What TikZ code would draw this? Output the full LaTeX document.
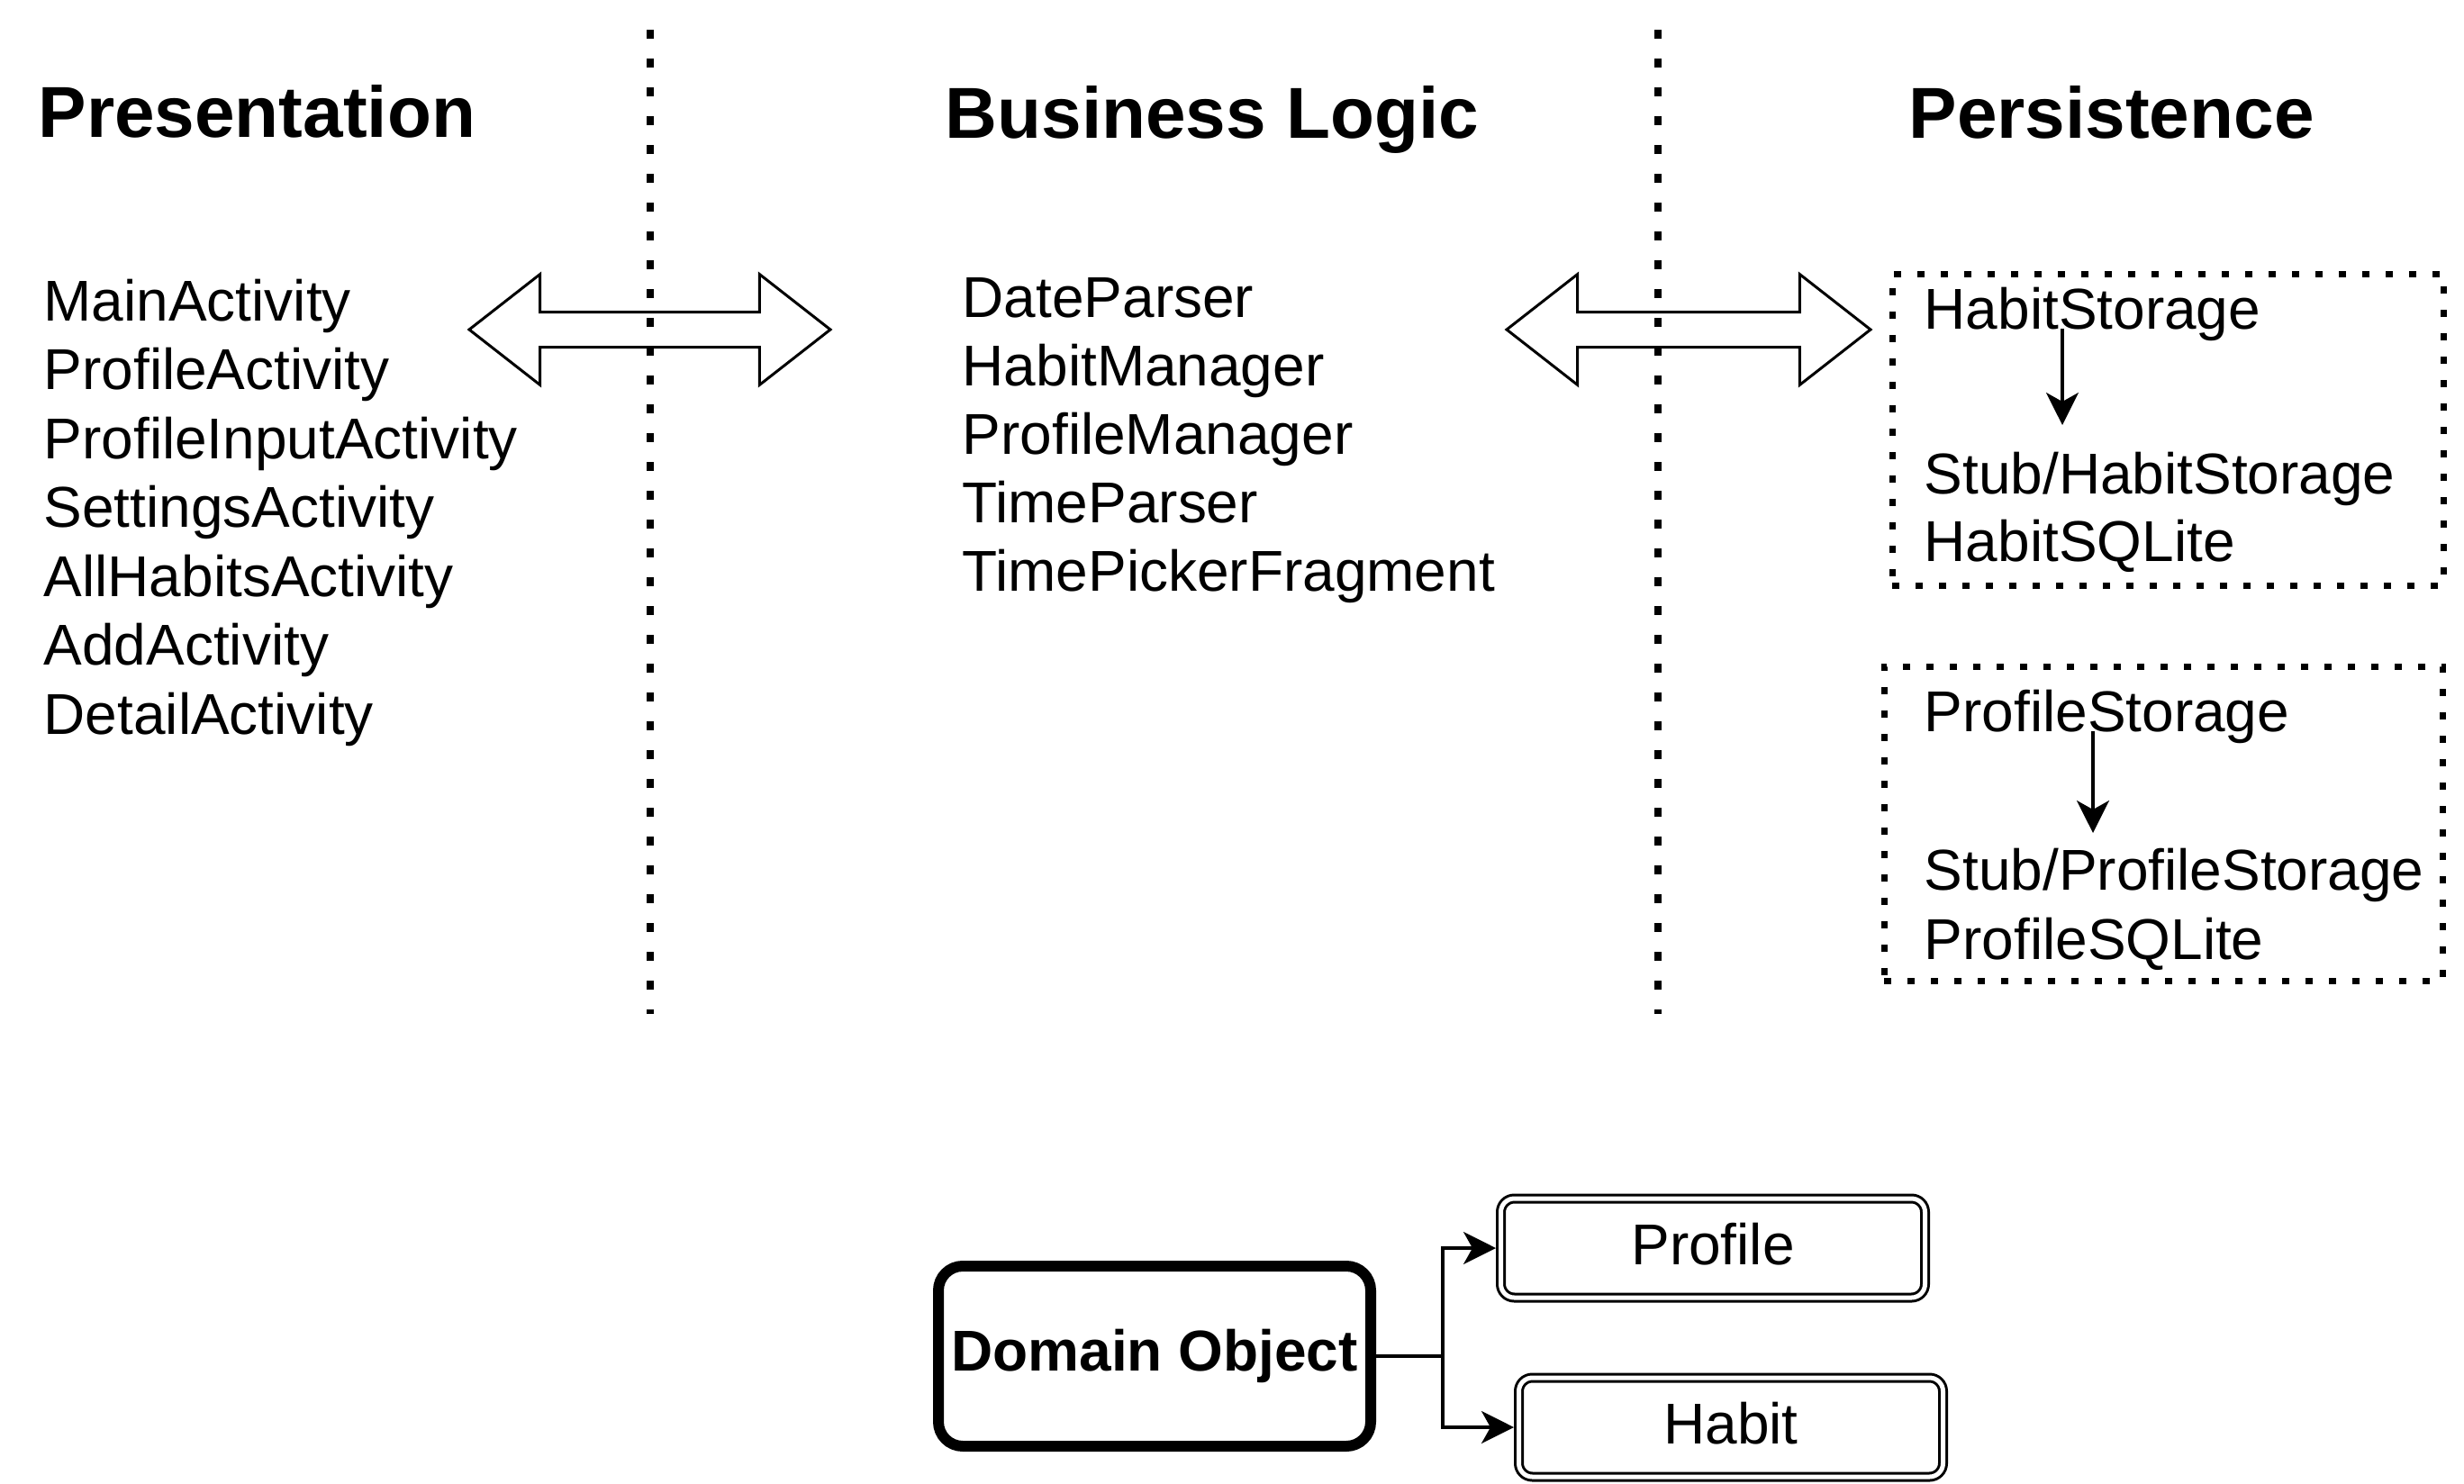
\documentclass[tikz,border=0pt]{standalone}
\usepackage{fontspec}
\setmainfont{Liberation Sans}
\usepackage{xcolor}
\usepackage{tikz}
\usetikzlibrary{shapes.arrows, arrows.meta}

\begin{document}
\begin{tikzpicture} [
    layerTitle/.style={anchor=base west, inner sep=0pt, font=\fontsize{22.8pt}{27pt}\selectfont\bfseries},
    className/.style={anchor=base west, inner sep=0pt, font=\fontsize{18.2pt}{22pt}\selectfont},
    layerBorder/.style={line width=0.08cm, dash pattern=on 0.1cm off 0.22cm},
    storageBox/.style={draw, line width=0.07cm, dash pattern=on 0.08cm off 0.18cm, inner sep=0pt},
    layerArrow/.style={double arrow, draw, line width=0.03cm, inner xsep=0pt, inner ysep=0.18cm, double arrow head extend=0.42cm, double arrow tip angle=76},
    domainObject/.style={draw, rounded corners=0.27cm, line width=0.12cm, minimum width=4.8cm, minimum height=2cm, font=\fontsize{18.2pt}{22pt}\selectfont\bfseries},
    domainClass/.style={draw, double, line width=0.03cm, double distance=0.05cm, rounded corners=0.15cm, outer sep=0.055cm, minimum width=4.71cm, minimum height=1.1cm, text depth=0.1cm, font=\fontsize{18.2pt}{22pt}\selectfont},
    arrow/.style={line width=0.033cm, -{Stealth[length=0.36cm, width=0.36cm, inset=0.1cm]}}
]
    \useasboundingbox (0, 0) rectangle (27.36, -16.48);

    % titles
    \node[layerTitle] (presTitle) at (0.42, -1.52) {Presentation};
    \node[layerTitle] (bizTitle) at (10.49, -1.53) {Business Logic};
    \node[layerTitle] (persTitle) at (21.19, -1.53) {Persistence};

    % layer borders
    \coordinate (presBizTop) at (7.22, -0.33);
    \coordinate (presBizBottom) at (7.22, -11.26);
    \draw[layerBorder] (presBizTop) -- (presBizBottom);

    \coordinate (bizPersTop) at (18.41, -0.33);
    \coordinate (bizPersBottom) at (18.41, -11.26);
    \draw[layerBorder] (bizPersTop) -- (bizPersBottom);

    % presentation
    \node[className] (mainAct) at (0.48, -3.56) {MainActivity};
    \node[className] (profileAct) at (0.48, -4.325) {ProfileActivity};
    \node[className] (profileInputAct) at (0.48, -5.09) {ProfileInputActivity};
    \node[className] (settingsAct) at (0.48, -5.855) {SettingsActivity};
    \node[className] (allHabitsAct) at (0.48, -6.62) {AllHabitsActivity};
    \node[className] (addAct) at (0.48, -7.385) {AddActivity};
    \node[className] (detailAct) at (0.48, -8.15) {DetailActivity};

    \node[layerArrow, minimum height=4.01cm] (presBizArrow) at (7.215, -3.66) {};

    % business logic
    \node[className] (dateParser) at (10.68, -3.52) {DateParser};
    \node[className] (habitManager) at (10.68, -4.28) {HabitManager};
    \node[className] (profileManager) at (10.68, -5.04) {ProfileManager};
    \node[className] (timeParser) at (10.68, -5.80) {TimeParser};
    \node[className] (timePicker) at (10.68, -6.56) {TimePickerFragment};

    \node[layerArrow, minimum height=4.04cm] (bizPersArrow) at (18.75, -3.66) {};

    % persistence
    \node[storageBox, minimum width=6.12cm, minimum height=3.46cm] (habitBox) at (24.07, -4.77) {};
    \node[className] (habitStore) at (21.36, -3.65) {HabitStorage};
    \node[className] (stubHabit) at (21.36, -5.48) {Stub/HabitStorage};
    \node[className] (habitSql) at (21.36, -6.23) {HabitSQLite};
    \coordinate (habitTip) at (22.9, -4.72);
    \draw[arrow] (habitStore.base -| habitTip) -- (habitTip);

    \node[storageBox, minimum width=6.2cm, minimum height=3.49cm] (profileBox) at (24.02, -9.145) {};
    \node[className] (profileStore) at (21.36, -8.12) {ProfileStorage};
    \node[className] (stubProfile) at (21.36, -9.88) {Stub/ProfileStorage};
    \node[className] (profileSql) at (21.36, -10.65) {ProfileSQLite};
    \coordinate (profileTip) at (23.24, -9.25);
    \draw[arrow] (profileStore.base -| profileTip) -- (profileTip);

    % domain objects
    \node[domainObject] (domain) at (12.82, -15.06) {Domain Object};
    \node[domainClass] (profile) at (19.02, -13.86) {Profile};
    \node[domainClass] (habit) at (19.22, -15.85) {Habit};

    \coordinate (split) at (16.02, -15.06);
    \draw[line width=0.033cm] (domain) -- (split);
    \draw[arrow] (split) |- (profile);
    \draw[arrow] (split) |- (habit);

\end{tikzpicture}
\end{document}
